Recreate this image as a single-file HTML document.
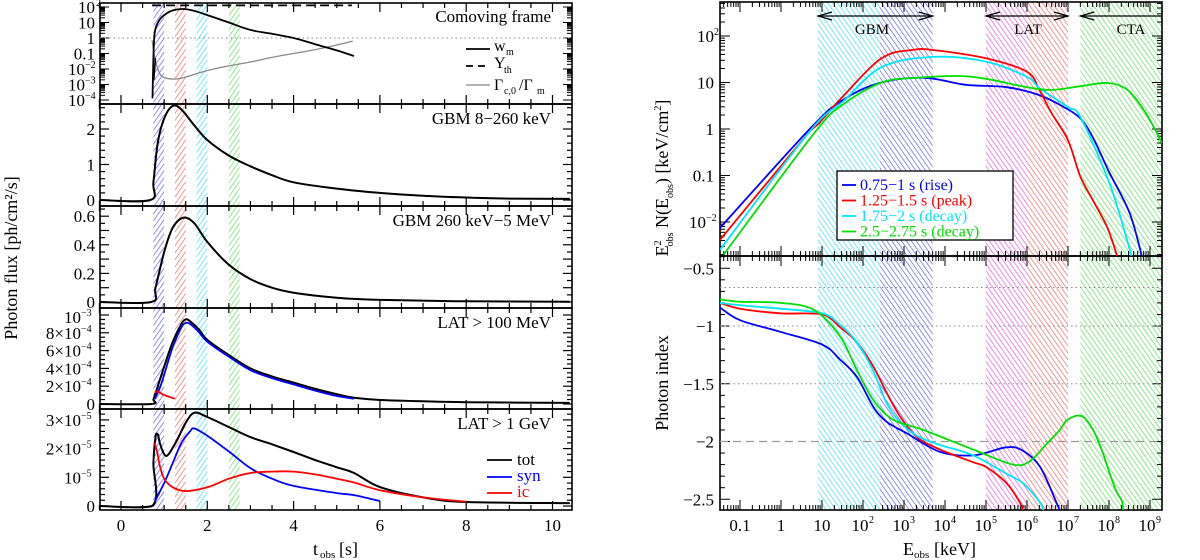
<!DOCTYPE html>
<html><head><meta charset="utf-8">
<style>
html,body{margin:0;padding:0;background:#fff;}
svg{display:block;font-family:"Liberation Serif","DejaVu Serif",serif;}
</style></head>
<body>
<svg id="fig" width="1200" height="560" viewBox="0 0 1200 560" xmlns="http://www.w3.org/2000/svg">
<defs>
<pattern id="hb" width="4" height="4" patternUnits="userSpaceOnUse" patternTransform="rotate(35)"><line x1="0" y1="0" x2="0" y2="4" stroke="#5555ee" stroke-width="1.3"/></pattern>
<pattern id="hr" width="4" height="4" patternUnits="userSpaceOnUse" patternTransform="rotate(35)"><line x1="0" y1="0" x2="0" y2="4" stroke="#f06060" stroke-width="1.3"/></pattern>
<pattern id="hc" width="4" height="4" patternUnits="userSpaceOnUse" patternTransform="rotate(35)"><line x1="0" y1="0" x2="0" y2="4" stroke="#33e0f0" stroke-width="1.3"/></pattern>
<pattern id="hg" width="4" height="4" patternUnits="userSpaceOnUse" patternTransform="rotate(35)"><line x1="0" y1="0" x2="0" y2="4" stroke="#55e055" stroke-width="1.3"/></pattern>
<pattern id="hm" width="4" height="4" patternUnits="userSpaceOnUse" patternTransform="rotate(-35)"><line x1="0" y1="0" x2="0" y2="4" stroke="#e050e0" stroke-width="1.3"/></pattern>
<pattern id="hc2" width="4" height="4" patternUnits="userSpaceOnUse" patternTransform="rotate(-35)"><line x1="0" y1="0" x2="0" y2="4" stroke="#33e0f0" stroke-width="1.3"/></pattern>
<pattern id="hb2" width="4" height="4" patternUnits="userSpaceOnUse" patternTransform="rotate(-35)"><line x1="0" y1="0" x2="0" y2="4" stroke="#5555ee" stroke-width="1.3"/></pattern>
<pattern id="hr2" width="4" height="4" patternUnits="userSpaceOnUse" patternTransform="rotate(-35)"><line x1="0" y1="0" x2="0" y2="4" stroke="#f06060" stroke-width="1.3"/></pattern>
<pattern id="hg2" width="4" height="4" patternUnits="userSpaceOnUse" patternTransform="rotate(-35)"><line x1="0" y1="0" x2="0" y2="4" stroke="#55e055" stroke-width="1.3"/></pattern>
</defs>
</svg>
<script>
// ---------- LEFT: light curves ----------
const bandStarts = [0.75, 1.25, 1.75, 2.5];
const bandEnds = [1.0, 1.5, 2.0, 2.75];
// panel 1 (log10 values)
const wmT = [0.73,0.76,0.8,0.9,1.0,1.2,1.45,1.7,2,2.5,3,3.5,4,4.5,5,5.4];
const wmV = [-3.9,-0.5,0.6,1.2,1.48,1.78,1.87,1.75,1.48,1.0,0.52,0.27,0.0,-0.4,-0.8,-1.16];
const wm2T = [0.76,0.8];
const wm2V = [-2.7,-1.3];
const ythT = [0.72,5.35];
const ythV = [2.1,2.1];
const gamT = [0.72,0.8,0.9,1.0,1.2,1.4,1.7,2,2.5,3,3.5,4,4.5,5,5.37];
const gamV = [-0.15,-1.5,-2.3,-2.55,-2.65,-2.6,-2.35,-2.1,-1.8,-1.55,-1.25,-1.0,-0.75,-0.45,-0.2];
// panel 2
const gbm1T = [-0.5,0.68,0.75,0.85,1.0,1.2,1.4,1.7,2,2.5,3,3.5,4,5,6,7,8,9,10.4];
const gbm1V = [0,0,0.5,1.6,2.3,2.65,2.55,2.1,1.69,1.25,0.95,0.7,0.5,0.32,0.2,0.12,0.07,0.04,0.03];
// panel 3
const gbm2T = [-0.5,0.7,0.8,1.0,1.2,1.45,1.7,2,2.5,3,3.5,4,5,6,8,10.4];
const gbm2V = [0,0,0.1,0.35,0.52,0.59,0.55,0.42,0.26,0.16,0.1,0.065,0.03,0.015,0.005,0.002];
// panel 4 (units 1e-4)
const lat1T = [-0.5,0.7,0.75,0.8,0.9,1.0,1.2,1.4,1.5,1.6,1.8,2,2.5,3,3.5,4,4.5,5,5.4,6,7,8,10.4];
const lat1V = [0,0,0.5,1.2,2.7,4.2,7.0,9.0,9.5,9.3,8.4,7.2,5.5,4.0,3.1,2.4,1.7,1.1,0.7,0.45,0.3,0.2,0.12];
const lat1sT = [0.78,0.9,1.0,1.2,1.4,1.5,1.6,1.8,2,2.5,3,3.5,4,4.5,5,5.4];
const lat1sV = [0.6,1.8,3.3,6.4,8.6,9.1,9.0,8.1,7.0,5.3,3.8,2.9,2.2,1.5,0.9,0.6];
const lat1iT = [0.78,0.85,1.0,1.25];
const lat1iV = [1.3,1.4,1.0,0.6];
// panel 5 (units 1e-5)
const lat2T = [-0.5,0.72,0.75,0.8,0.85,0.9,1.0,1.1,1.3,1.5,1.7,2,2.5,3,3.5,4,4.5,5,5.4,6,7,8,10.4];
const lat2V = [0,0,1.5,2.4,2.5,2.2,1.8,1.8,2.3,2.9,3.25,3.1,2.75,2.4,2.15,1.88,1.6,1.35,1.15,0.66,0.3,0.14,0.1];
const lat2sT = [0.78,1.0,1.2,1.4,1.6,1.7,2,2.5,3,3.5,4,5,5.4,6];
const lat2sV = [0.15,0.8,1.5,2.2,2.6,2.7,2.45,1.9,1.32,0.95,0.7,0.45,0.38,0.17];
const lat2iT = [0.78,0.85,0.9,1.0,1.2,1.5,2,2.5,3,3.5,4,4.5,5,5.4,6,7,8];
const lat2iV = [2.2,1.8,1.4,0.95,0.65,0.52,0.65,0.95,1.15,1.2,1.2,1.1,0.95,0.82,0.55,0.3,0.15];

// ---------- RIGHT: spectra ----------
const specBlueE = [-1.49,0.7,1.5,2.4,3.5,4.5,5.5,6.3,6.9,7.3,7.6,8.0,8.5,8.8];
const specBlueV = [-2.13,0,0.62,0.99,1.1,0.95,0.9,0.73,0.47,0.23,-0.17,-0.92,-1.8,-2.73];
const specRedE = [-1.49,0.7,1.0,1.5,2.45,3.2,3.7,5.0,6.0,6.3,6.6,7.0,7.3,7.6,7.95,8.2];
const specRedV = [-2.39,-0.05,0.2,0.69,1.52,1.7,1.7,1.52,1.23,0.84,0.34,-0.24,-1.02,-1.52,-2.1,-2.73];
const specCyanE = [-1.49,0.7,1.5,2.45,3.7,5.0,6.0,6.3,7.0,7.3,7.95,8.25,8.55];
const specCyanV = [-2.6,-0.05,0.58,1.33,1.55,1.45,1.12,0.88,0.47,0.26,-1.03,-1.81,-2.73];
const specGreenE = [-1.4,0.8,1.5,2.45,3.3,4.3,5.0,6.0,6.6,7.3,7.95,8.45,8.9,9.29];
const specGreenV = [-2.7,-0.1,0.52,1.0,1.1,1.14,1.08,0.9,0.84,0.92,0.99,0.84,0.34,-0.3];
// photon index
const idxBlueE = [-1.49,-1.0,-0.02,1.0,1.44,1.85,2.25,2.58,3.07,3.88,4.69,5.5,5.9,6.32,6.72,6.8];
const idxBlueV = [-0.84,-0.95,-1.05,-1.16,-1.29,-1.44,-1.7,-1.83,-1.93,-2.09,-2.12,-2.05,-2.08,-2.22,-2.53,-2.6];
const idxRedE = [-1.49,-1.0,-0.02,1.0,1.44,1.85,2.25,2.58,2.9,3.31,3.88,4.69,5.0,5.5,5.83,5.9];
const idxRedV = [-0.8,-0.85,-0.89,-0.9,-1.01,-1.14,-1.35,-1.58,-1.78,-1.96,-2.07,-2.18,-2.22,-2.36,-2.53,-2.6];
const idxCyanE = [-1.49,-1.0,-0.02,1.0,1.44,1.85,2.25,2.58,2.9,3.31,3.88,4.69,5.5,5.9,6.32,6.4];
const idxCyanV = [-0.8,-0.82,-0.85,-0.89,-0.99,-1.14,-1.39,-1.67,-1.83,-1.95,-2.03,-2.12,-2.28,-2.36,-2.53,-2.6];
const idxGreenE = [-1.49,-1.0,-0.02,0.8,1.44,1.85,2.25,2.73,3.47,4.69,5.66,6.07,6.48,6.8,6.99,7.33,7.61,7.82,8.02,8.19,8.31,8.35];
const idxGreenV = [-0.77,-0.79,-0.8,-0.86,-1.09,-1.38,-1.64,-1.81,-1.9,-2.07,-2.2,-2.17,-2.02,-1.9,-1.81,-1.78,-1.9,-2.07,-2.28,-2.44,-2.51,-2.6];

const svg = document.getElementById('fig');
const NS = 'http://www.w3.org/2000/svg';
function mk(tag, attrs, parent){
  const e = document.createElementNS(NS, tag);
  for (const k in attrs) e.setAttribute(k, attrs[k]);
  (parent||svg).appendChild(e);
  return e;
}
function smoothPath(P){
  if (P.length < 3) return 'M' + P.map(p=>p[0].toFixed(1)+','+p[1].toFixed(1)).join(' L');
  let d = 'M' + P[0][0].toFixed(1) + ',' + P[0][1].toFixed(1);
  for (let i=0;i<P.length-1;i++){
    const p0 = P[Math.max(i-1,0)], p1 = P[i], p2 = P[i+1], p3 = P[Math.min(i+2,P.length-1)];
    const k = 1/6;
    let c1 = [p1[0]+(p2[0]-p0[0])*k, p1[1]+(p2[1]-p0[1])*k];
    let c2 = [p2[0]-(p3[0]-p1[0])*k, p2[1]-(p3[1]-p1[1])*k];
    // limit vertical overshoot
    const lo = Math.min(p1[1],p2[1]), hi = Math.max(p1[1],p2[1]);
    c1[1] = Math.min(Math.max(c1[1], lo-3), hi+3);
    c2[1] = Math.min(Math.max(c2[1], lo-3), hi+3);
    d += ' C' + c1[0].toFixed(1)+','+c1[1].toFixed(1)+' '+c2[0].toFixed(1)+','+c2[1].toFixed(1)+' '+p2[0].toFixed(1)+','+p2[1].toFixed(1);
  }
  return d;
}
function poly(xs, ys, fx, fy, color, w, dash, name, clip){
  const P = xs.map((x,i)=>[fx(x), fy(ys[i])]);
  const p = mk('path', {d: smoothPath(P), fill:'none', stroke: color, 'stroke-width': w, 'stroke-linejoin':'round'});
  if (dash) p.setAttribute('stroke-dasharray', dash);
  if (clip) p.setAttribute('clip-path', 'url(#'+clip+')');
  
  
  return p;
}
function txt(x, y, s, size, anchor, color, name){
  const t = mk('text', {x:x, y:y, 'font-size': size, 'text-anchor': anchor||'start', fill: color||'#000'});
  t.textContent = s;
  
  
  return t;
}
function clipRect(id, x, y, w, h){
  const defs = svg.querySelector('defs');
  const c = mk('clipPath', {id:id}, defs);
  mk('rect', {x:x, y:y, width:w, height:h}, c);
}

// ===== LEFT geometry =====
const LX0 = 100, LX1 = 572;
const tx = t => 121 + 43.15*t;
const pTop = [3, 104, 206, 308, 409];
const pBot = [104, 206, 308, 409, 510];
const y1 = v => 38 - 15.5*v;
const y2 = v => 200 - 35.5*v;
const y3 = v => 302 - 143*v;
const y4 = v => 404 - 8.9*v;
const y5 = v => 506 - 28.7*v;
clipRect('clipL', LX0, 3, LX1-LX0, 507);
clipRect('clipL1', LX0, 3, LX1-LX0, 101);

const bandFills = ['url(#hb)','url(#hr)','url(#hc)','url(#hg)'];
for (let i=0;i<bandStarts.length;i++){
  const r = mk('rect', {x: tx(bandStarts[i]), y: 3, width: tx(bandEnds[i])-tx(bandStarts[i]), height: 507, fill: bandFills[i]});
  
  
}

for (let p=0;p<5;p++){
  const r = mk('rect', {x:LX0, y:pTop[p], width:LX1-LX0, height:pBot[p]-pTop[p], fill:'none', stroke:'#000', 'stroke-width':1.6});
  
  
  for (let t=-0.5;t<=10.41;t+=0.5){
    const maj = Math.abs(t/2-Math.round(t/2))<1e-6;
    const L = maj?9:5;
    mk('line', {x1:tx(t), x2:tx(t), y1:pTop[p], y2:pTop[p]+L, stroke:'#000','stroke-width':1.2});
    mk('line', {x1:tx(t), x2:tx(t), y1:pBot[p], y2:pBot[p]-L, stroke:'#000','stroke-width':1.2});
  }
}
function yticksLin(fy, lo, hi, step, majEvery, top, bot){
  let k=0;
  for (let v=lo; v<=hi+1e-9; v+=step, k++){
    const y = fy(v); if (y<top||y>bot) continue;
    const L = (k%majEvery===0)?9:5;
    mk('line',{x1:LX0,x2:LX0+L,y1:y,y2:y,stroke:'#000','stroke-width':1.2});
    mk('line',{x1:LX1,x2:LX1-L,y1:y,y2:y,stroke:'#000','stroke-width':1.2});
  }
}
for (let d=-4; d<=2; d++){
  for (let m=1;m<=9;m++){
    const v = d + Math.log10(m); const y = y1(v); if (y<3||y>104) continue;
    const L = m===1?9:5;
    mk('line',{x1:LX0,x2:LX0+L,y1:y,y2:y,stroke:'#000','stroke-width':1});
    mk('line',{x1:LX1,x2:LX1-L,y1:y,y2:y,stroke:'#000','stroke-width':1});
  }
}
yticksLin(y2, 0, 2.8, 0.2, 5, 104, 206);
yticksLin(y3, 0, 0.7, 0.05, 2, 206, 308);
yticksLin(y4, 0, 10, 0.5, 4, 308, 409);
yticksLin(y5, 0, 3.4, 0.2, 5, 409, 510);

const p1Labels = ['10','1','0.1'];
const p1LabelVals = [1,0,-1];
txt(95, y1(2)+6, '10', 17, 'end', '#000', 'y1-tick-100');
txt(96, y1(2)-1, '2', 10, 'start', '#000', 'y1-tick-100-exp');
for (let i=0;i<p1Labels.length;i++) txt(95, y1(p1LabelVals[i])+6, p1Labels[i], 17, 'end', '#000', 'y1-tick');
[-2,-3,-4].forEach(e=>{ txt(85, y1(e)+6, '10', 17, 'end', '#000', 'y1-tick'); txt(85, y1(e)-1, '\u2212'+(-e), 10, 'start', '#000', 'y1-tick-exp'); });
[0,1,2].forEach(v=> txt(95, y2(v)+6, String(v), 17, 'end', '#000', 'y2-tick'));
[0,0.2,0.4,0.6].forEach(v=> txt(95, y3(v)+6, v===0?'0':String(v), 17, 'end', '#000', 'y3-tick'));
txt(95, y4(0)+6, '0', 17, 'end', '#000', 'y4-tick');
[2,4,6,8].forEach(v=>{ txt(81, y4(v)+6, v+'\u00d710', 17, 'end', '#000', 'y4-tick'); txt(81, y4(v)-1, '\u22124', 10, 'start', '#000', 'y4-tick-exp'); });
txt(81, y4(10)+8, '10', 17, 'end', '#000', 'y4-tick'); txt(81, y4(10)+1, '\u22123', 10, 'start', '#000', 'y4-tick-exp');
txt(95, y5(0)+6, '0', 17, 'end', '#000', 'y5-tick');
txt(81, y5(1)+6, '10', 17, 'end', '#000', 'y5-tick'); txt(81, y5(1)-1, '\u22125', 10, 'start', '#000', 'y5-tick-exp');
[2,3].forEach(v=>{ txt(81, y5(v)+6, v+'\u00d710', 17, 'end', '#000', 'y5-tick'); txt(81, y5(v)-1, '\u22125', 10, 'start', '#000', 'y5-tick-exp'); });
const xTicks = [0,2,4,6,8,10];
xTicks.forEach(t=> txt(tx(t), 531, String(t), 17, 'middle', '#000', 'x-tick-label'));
const lt = txt(0,0,'Photon flux [ph/cm\u00b2/s]', 18, 'middle', '#000', 'y-axis-title-left');
lt.setAttribute('transform','translate(17,258) rotate(-90)');
txt(313, 555, 't', 18, 'start', '#000', 'x-axis-title-left');
txt(320, 558, 'obs', 11, 'start', '#000', 'x-axis-title-sub');
txt(339, 555, '[s]', 18, 'start', '#000', 'x-axis-title-unit');

const d1 = mk('line',{x1:LX0,x2:LX1,y1:y1(0),y2:y1(0),stroke:'#888','stroke-width':1,'stroke-dasharray':'1.5,3'});



poly(ythT, ythV, tx, y1, '#000', 1.8, '9,5', 'ymax-th-line', 'clipL1');
poly(gamT, gamV, tx, y1, '#888', 1.3, null, 'gamma-ratio-line', 'clipL1');
poly(wmT, wmV, tx, y1, '#000', 1.8, null, 'wm-line', 'clipL1');
poly(wm2T, wm2V, tx, y1, '#000', 1.5, null, 'wm-early-line', 'clipL1');
poly(gbm1T, gbm1V, tx, y2, '#000', 2, null, 'gbm-low-line', 'clipL');
poly(gbm2T, gbm2V, tx, y3, '#000', 2, null, 'gbm-high-line', 'clipL');
poly(lat1T, lat1V, tx, y4, '#000', 2, null, 'lat100-tot-line', 'clipL');
poly(lat1sT, lat1sV, tx, y4, '#0000ff', 1.8, null, 'lat100-syn-line', 'clipL');
poly(lat1iT, lat1iV, tx, y4, '#ff0000', 1.8, null, 'lat100-ic-line', 'clipL');
poly(lat2T, lat2V, tx, y5, '#000', 2, null, 'lat1g-tot-line', 'clipL');
poly(lat2sT, lat2sV, tx, y5, '#0000ff', 1.8, null, 'lat1g-syn-line', 'clipL');
poly(lat2iT, lat2iV, tx, y5, '#ff0000', 1.8, null, 'lat1g-ic-line', 'clipL');

txt(551, 22, 'Comoving frame', 17, 'end', '#000', 'panel-title-comoving');
txt(551, 124, 'GBM 8\u2212260 keV', 17, 'end', '#000', 'panel-title-gbm-low');
txt(551, 226, 'GBM 260 keV\u22125 MeV', 17, 'end', '#000', 'panel-title-gbm-high');
txt(551, 328, 'LAT > 100 MeV', 17, 'end', '#000', 'panel-title-lat100');
txt(551, 429, 'LAT > 1 GeV', 17, 'end', '#000', 'panel-title-lat1g');
mk('line',{x1:466,x2:490,y1:49,y2:49,stroke:'#000','stroke-width':1.8});
txt(494, 51, 'w', 16, 'start', '#000', 'legend-wm');
txt(506, 55, 'm', 10, 'start', '#000', 'legend-wm-sub');
mk('line',{x1:466,x2:490,y1:66,y2:66,stroke:'#000','stroke-width':1.8,'stroke-dasharray':'7,5'});
txt(494, 68, 'Y', 16, 'start', '#000', 'legend-yth');
txt(504, 73, 'th', 10, 'start', '#000', 'legend-yth-sub');
mk('line',{x1:466,x2:490,y1:85,y2:85,stroke:'#888','stroke-width':1.3});
txt(494, 90, '\u0393', 16, 'start', '#000', 'legend-gamma');
txt(504, 94, 'c,0', 10, 'start', '#000', 'legend-gamma-sub');
txt(519, 90, '/\u0393', 16, 'start', '#000', 'legend-gamma-2');
txt(537, 94, 'm', 10, 'start', '#000', 'legend-gamma-sub2');
mk('line',{x1:487,x2:512,y1:460,y2:460,stroke:'#000','stroke-width':1.8});
txt(517, 465, 'tot', 17, 'start', '#000', 'legend-tot');
mk('line',{x1:487,x2:512,y1:477,y2:477,stroke:'#0000ff','stroke-width':1.8});
txt(517, 481, 'syn', 17, 'start', '#0000ff', 'legend-syn');
mk('line',{x1:487,x2:512,y1:493,y2:493,stroke:'#ff0000','stroke-width':1.8});
txt(517, 497, 'ic', 17, 'start', '#ff0000', 'legend-ic');

// ===== RIGHT geometry =====
const RX0 = 720, RX1 = 1162, RT = 2, RM = 256, RB = 510;
const ex = e => 781 + 41*e;
const ys = v => 129 - 46.5*v;
const yi = v => 326 + (-1 - v)*115.5;
clipRect('clipRT', RX0, RT, RX1-RX0, RM-RT);
clipRect('clipRB', RX0, RM, RX1-RX0, RB-RM);
const rBandLo = [Math.log10(8), Math.log10(260), 5, 6, Math.log10(2e7)];
const rBandHi = [Math.log10(260), Math.log10(5000), 6, 7, 9.4];
const rBandFill = ['url(#hc2)','url(#hb2)','url(#hm)','url(#hr2)','url(#hg2)'];
for (let i=0;i<rBandLo.length;i++){
  const x0 = ex(rBandLo[i]), x1 = Math.min(ex(rBandHi[i]), RX1);
  const r = mk('rect',{x:x0,y:RT,width:x1-x0,height:RB-RT,fill:rBandFill[i]});
  
  
}
const fT = mk('rect',{x:RX0,y:RT,width:RX1-RX0,height:RM-RT,fill:'none',stroke:'#000','stroke-width':1.6});


const fB = mk('rect',{x:RX0,y:RM,width:RX1-RX0,height:RB-RM,fill:'none',stroke:'#000','stroke-width':1.6});


for (let d=-2; d<=9; d++){
  for (let m=1;m<=9;m++){
    const x = ex(d+Math.log10(m)); if (x<RX0||x>RX1) continue;
    const L = m===1?10:5;
    [[RT,1],[RM,-1],[RM,1],[RB,-1]].forEach(([y0,s])=> mk('line',{x1:x,x2:x,y1:y0,y2:y0+s*L,stroke:'#000','stroke-width':1}));
  }
}
for (let d=-3; d<=2; d++){
  for (let m=1;m<=9;m++){
    const y = ys(d+Math.log10(m)); if (y<RT||y>RM) continue;
    const L = m===1?10:5;
    mk('line',{x1:RX0,x2:RX0+L,y1:y,y2:y,stroke:'#000','stroke-width':1});
    mk('line',{x1:RX1,x2:RX1-L,y1:y,y2:y,stroke:'#000','stroke-width':1});
  }
}
for (let k=0; k<=22; k++){
  const v = -0.4 - 0.1*k; const y = yi(v); if (y<RM||y>RB) continue;
  const L = (Math.abs(v*2-Math.round(v*2))<1e-6)?10:5;
  mk('line',{x1:RX0,x2:RX0+L,y1:y,y2:y,stroke:'#000','stroke-width':1});
  mk('line',{x1:RX1,x2:RX1-L,y1:y,y2:y,stroke:'#000','stroke-width':1});
}
txt(714, ys(2)+6, '10', 17, 'end', '#000', 'spec-y-tick'); txt(714, ys(2)-1, '2', 10, 'start', '#000', 'spec-y-tick-exp');
txt(714, ys(1)+6, '10', 17, 'end', '#000', 'spec-y-tick');
txt(714, ys(0)+6, '1', 17, 'end', '#000', 'spec-y-tick');
txt(714, ys(-1)+6, '0.1', 17, 'end', '#000', 'spec-y-tick');
txt(706, ys(-2)+6, '10', 17, 'end', '#000', 'spec-y-tick'); txt(706, ys(-2)-1, '\u22122', 10, 'start', '#000', 'spec-y-tick-exp');
const idxTicks = [-0.5,-1,-1.5,-2,-2.5];
const idxLabels = ['\u22120.5','\u22121','\u22121.5','\u22122','\u22122.5'];
idxTicks.forEach((v,i)=> txt(714, yi(v)+6, idxLabels[i], 17, 'end', '#000', 'index-y-tick'));
txt(ex(-1), 531, '0.1', 17, 'middle', '#000', 'energy-tick');
txt(ex(0), 531, '1', 17, 'middle', '#000', 'energy-tick');
txt(ex(1), 531, '10', 17, 'middle', '#000', 'energy-tick');
for (let d=2; d<=9; d++){ txt(ex(d)-3, 531, '10', 17, 'middle', '#000', 'energy-tick'); txt(ex(d)+6, 523, String(d), 10, 'start', '#000', 'energy-tick-exp'); }
const g1 = mk('g',{transform:'translate(668,178) rotate(-90)'});


const t1 = mk('text',{x:0,y:0,'font-size':18,'text-anchor':'middle'}, g1);
t1.innerHTML = 'E<tspan font-size="10" dy="-7">2</tspan><tspan font-size="10" dx="-6" dy="12">obs</tspan><tspan dy="-5"> N(E</tspan><tspan font-size="10" dy="5">obs</tspan><tspan dy="-5">) [keV/cm</tspan><tspan font-size="10" dy="-7">2</tspan><tspan dy="7">]</tspan>';
const t2 = txt(0,0,'Photon index', 18, 'middle', '#000', 'y-axis-title-index');
t2.setAttribute('transform','translate(668,383) rotate(-90)');
txt(903, 555, 'E', 18, 'start', '#000', 'x-axis-title-right');
txt(914, 558, 'obs', 11, 'start', '#000', 'x-axis-title-right-sub');
txt(934, 555, '[keV]', 18, 'start', '#000', 'x-axis-title-right-unit');
const refIdx = [-2/3, -1, -1.5];
refIdx.forEach(v=>{ const l=mk('line',{x1:RX0,x2:RX1,y1:yi(v),y2:yi(v),stroke:'#888','stroke-width':1,'stroke-dasharray':'1.5,3'});
  
   });
const l2 = mk('line',{x1:RX0,x2:RX1,y1:yi(-2),y2:yi(-2),stroke:'#999','stroke-width':1.2,'stroke-dasharray':'8,5'});


function arrow(e0, e1, open1, label, name){
  const y = 16, x0 = ex(e0), x1 = Math.min(ex(e1), RX1);
  const g = mk('g',{});
  
  
  mk('line',{x1:x0,x2:x1,y1:y,y2:y,stroke:'#000','stroke-width':1.2},g);
  mk('polyline',{points:(x0+14)+','+(y-4)+' '+x0+','+y+' '+(x0+14)+','+(y+4),fill:'none',stroke:'#000','stroke-width':1.2},g);
  if (open1) mk('polyline',{points:(x1-14)+','+(y-4)+' '+x1+','+y+' '+(x1-14)+','+(y+4),fill:'none',stroke:'#000','stroke-width':1.2},g);
  txt(label[1], 34, label[0], 15, 'middle', '#000', name+'-label');
}
arrow(Math.log10(8), Math.log10(5000), true, ['GBM', 872], 'gbm-range-arrow');
arrow(5, 7, true, ['LAT', 1028], 'lat-range-arrow');
arrow(Math.log10(2e7), 9.4, false, ['CTA', 1131], 'cta-range-arrow');
poly(specBlueE, specBlueV, ex, ys, '#0000ff', 1.8, null, 'spectrum-rise', 'clipRT');
poly(specRedE, specRedV, ex, ys, '#ff0000', 1.8, null, 'spectrum-peak', 'clipRT');
poly(specCyanE, specCyanV, ex, ys, '#00e5ff', 1.8, null, 'spectrum-decay1', 'clipRT');
poly(specGreenE, specGreenV, ex, ys, '#00e000', 1.8, null, 'spectrum-decay2', 'clipRT');
poly(idxBlueE, idxBlueV, ex, yi, '#0000ff', 1.8, null, 'index-rise', 'clipRB');
poly(idxRedE, idxRedV, ex, yi, '#ff0000', 1.8, null, 'index-peak', 'clipRB');
poly(idxCyanE, idxCyanV, ex, yi, '#00e5ff', 1.8, null, 'index-decay1', 'clipRB');
poly(idxGreenE, idxGreenV, ex, yi, '#00e000', 1.8, null, 'index-decay2', 'clipRB');
const lg = mk('rect',{x:837,y:171,width:176,height:69,fill:'#fff',stroke:'#000','stroke-width':1.3});


const legTxt = ['0.75\u22121 s (rise)','1.25\u22121.5 s (peak)','1.75\u22122 s (decay)','2.5\u22122.75 s (decay)'];
const legCol = ['#0000ff','#ff0000','#00e5ff','#00e000'];
for (let i=0;i<4;i++){
  const y = 185 + i*15.5;
  mk('line',{x1:842,x2:856,y1:y,y2:y,stroke:legCol[i],'stroke-width':1.8});
  txt(860, y+5, legTxt[i], 16, 'start', legCol[i], 'legend-entry-'+(i+1));
}
</script>
</body></html>
